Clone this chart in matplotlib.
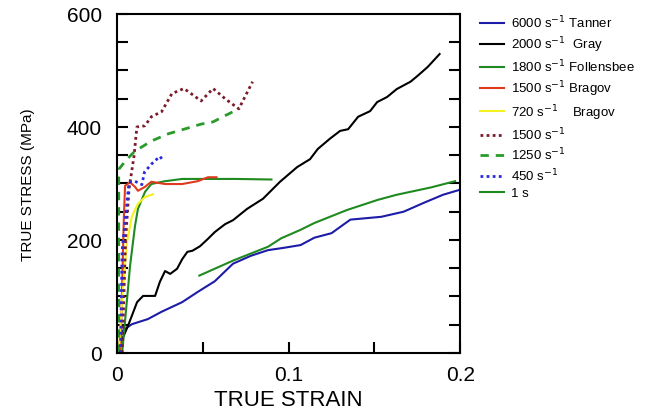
import matplotlib.pyplot as plt
import numpy as np

plt.rcParams['font.family'] = ['Liberation Sans', 'DejaVu Sans']

# 6000 s^-1 Tanner
tanner_x = [0, 0.003, 0.0087, 0.018, 0.026, 0.038, 0.047, 0.057, 0.0676, 0.078, 0.088, 0.097,
            0.107, 0.115, 0.125, 0.136, 0.154, 0.167, 0.179, 0.190, 0.2]
tanner_y = [0, 39, 51, 60, 73, 90, 108, 127, 158, 172, 182, 186,
            191, 204, 212, 236, 241, 250, 266, 280, 289]

# 2000 s^-1 Gray
gray_x = [0.0006, 0.0064, 0.0117, 0.0152, 0.018, 0.0222, 0.025, 0.028, 0.031, 0.035, 0.038, 0.041,
          0.044, 0.0484, 0.053, 0.057, 0.063, 0.0676, 0.0758, 0.0851, 0.095, 0.105, 0.1125, 0.117,
          0.124, 0.130, 0.1347, 0.1405, 0.1475, 0.1516, 0.1574, 0.163, 0.171, 0.175, 0.181, 0.188]
gray_y = [7, 48, 90, 101, 101, 101, 126, 145, 140, 149, 166, 179,
          181, 189, 202, 214, 228, 235, 255, 273, 303, 329, 343, 361,
          379, 393, 396, 418, 428, 444, 453, 467, 480, 490, 506, 529]

# 1800 s^-1 Follensbee
foll_x = [0.003, 0.0076, 0.0105, 0.0122, 0.0163, 0.020, 0.028, 0.038, 0.069, 0.09]
foll_y = [0, 154, 225, 255, 285, 299, 304, 308, 308, 307]

# 1500 s^-1 Bragov
brag1500_x = [0.002, 0.004, 0.0047, 0.0076, 0.0105, 0.0122, 0.0163, 0.020, 0.028, 0.038, 0.047,
              0.053, 0.058]
brag1500_y = [0, 241, 296, 302, 294, 287, 294, 303, 299, 299, 304, 311, 311]

# 720 s^-1 Bragov
brag720_x = [0.001, 0.0017, 0.0035, 0.0058, 0.0087, 0.0122, 0.0163, 0.021]
brag720_y = [0, 34, 113, 196, 242, 264, 276, 281]

# 1500 s^-1 (dotted)
dot1500_x = [0.003, 0.005, 0.007, 0.0099, 0.0116, 0.0162, 0.020, 0.026, 0.032, 0.039, 0.045,
             0.049, 0.056, 0.063, 0.071, 0.074, 0.079]
dot1500_y = [0, 200, 290, 348, 400, 402, 418, 427, 459, 468, 455,
             446, 468, 450, 432, 450, 480]

# 1250 s^-1 (dashed)
dash1250_x = [0.001, 0.001, 0.0058, 0.0104, 0.020, 0.030, 0.039, 0.049, 0.056, 0.063, 0.071]
dash1250_y = [0, 325, 343, 357, 375, 388, 396, 405, 409, 420, 432]

# 450 s^-1 (dotted)
dot450_x = [0.002, 0.003, 0.007, 0.0104, 0.0145, 0.016, 0.020, 0.025, 0.027]
dot450_y = [0, 182, 302, 304, 298, 320, 334, 348, 340]

# 1 s^-1
qs_x = [0.048, 0.068, 0.088, 0.0957, 0.107, 0.115, 0.134, 0.152, 0.163, 0.183, 0.197]
qs_y = [137, 164, 188, 203, 218, 230, 253, 271, 280, 293, 304]

fig = plt.figure(figsize=(6.5, 4.1), dpi=100)
ax = fig.add_axes([0.18, 0.1366, 0.528, 0.827])

ax.plot(tanner_x, tanner_y, color='#1c1ca8', lw=1.5, label='6000 s$^{-1}$ Tanner')
ax.plot(gray_x, gray_y, color='black', lw=1.5, label='2000 s$^{-1}$  Gray')
ax.plot(foll_x, foll_y, color='#1f8a1f', lw=1.5, label='1800 s$^{-1}$ Follensbee')
ax.plot(brag1500_x, brag1500_y, color='#e03a1e', lw=1.5, label='1500 s$^{-1}$ Bragov')
ax.plot(brag720_x, brag720_y, color='#f5f020', lw=1.5, label='720 s$^{-1}$    Bragov')
ax.plot(dot1500_x, dot1500_y, color='#7a1a2a', lw=2, ls=(0, (1, 1.2)), label='1500 s$^{-1}$')
ax.plot(dash1250_x, dash1250_y, color='#2a9a2a', lw=2, ls=(0, (3, 2.5)), label='1250 s$^{-1}$')
ax.plot(dot450_x, dot450_y, color='#2a2ae0', lw=2, ls=(0, (1, 1.2)), label='450 s$^{-1}$')
ax.plot(qs_x, qs_y, color='#1f8a1f', lw=1.5, label='1 s')

ax.set_xlim(0, 0.2)
ax.set_ylim(0, 600)
ax.set_xticks(np.arange(0, 0.21, 0.05))
ax.set_xticklabels(['0', '', '0.1', '', '0.2'])
ax.set_yticks(np.arange(0, 601, 50))
ax.set_yticklabels([str(v) if v % 200 == 0 else '' for v in range(0, 601, 50)])
ax.tick_params(direction='in', length=8, width=1.5, labelsize=15, right=True)
ax.tick_params(axis='y', pad=11)
ax.tick_params(axis='x', pad=9)
for s in ax.spines.values():
    s.set_linewidth(1.5)

ax.set_xlabel('TRUE STRAIN', fontsize=16, labelpad=3)
ax.set_ylabel('TRUE STRESS (MPa)', fontsize=11)
ax.yaxis.set_label_coords(-0.238, 0.5)

fig.legend(loc='upper left', bbox_to_anchor=(0.728, 0.98), frameon=False, fontsize=9.5,
           borderpad=0, handlelength=1.8, handletextpad=0.6, labelspacing=0.3)

fig.savefig('out.png', dpi=100)
